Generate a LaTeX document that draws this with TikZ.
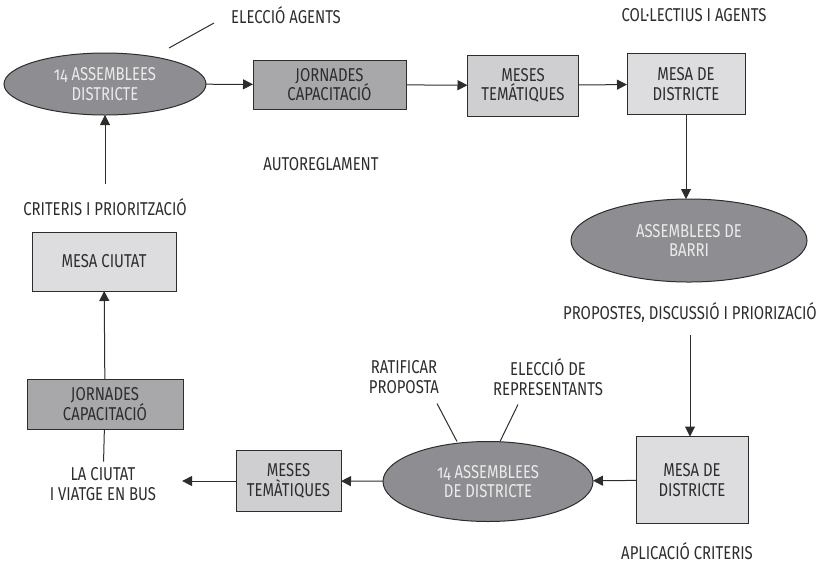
\documentclass[tikz,border=0pt]{standalone}
\usepackage{fontspec}
\setmainfont{Fira Sans}[Numbers=OldStyle,FakeStretch=0.80]
\usetikzlibrary{shapes.geometric,arrows.meta}
\definecolor{ellgray}{RGB}{142,142,146}
\definecolor{jorgray}{RGB}{168,168,171}
\definecolor{mesgray}{RGB}{207,207,209}
\definecolor{mesagray}{RGB}{221,221,223}
\definecolor{inkgray}{RGB}{45,45,45}

\begin{document}
\begin{tikzpicture}[x=0.5pt,y=-0.5pt,line width=0.5pt,color=inkgray,>={Triangle[length=5pt,width=5pt]},
  every node/.style={inner sep=0,outer sep=0,align=center,font=\fontsize{9.3}{9.8}\selectfont},
  assembly/.style={ellipse,draw=inkgray,fill=ellgray,text=white!92!black},
  jorbox/.style={draw=inkgray,fill=jorgray},
  mesbox/.style={draw=inkgray,fill=mesgray},
  mesabox/.style={draw=inkgray,fill=mesagray}]
\useasboundingbox (0,0) rectangle (836,564);

\node (ell1) [assembly,minimum width=101pt,minimum height=31pt] at (105,84) {14 ASSEMBLEES\\DISTRICTE};
\node (jor1) [jorbox,minimum width=76.5pt,minimum height=24.5pt] at (329.5,84.5) {JORNADES\\CAPACITACIÓ};
\node (mes1) [mesbox,minimum width=55.5pt,minimum height=30.5pt] at (523,85.5) {MESES\\TEMÁTIQUES};
\node (mesa1) [mesabox,minimum width=59pt,minimum height=30.5pt] at (686,84) {MESA DE\\DISTRICTE};
\node (barri) [assembly,minimum width=118pt,minimum height=41.5pt] at (689,240.5) {ASSEMBLEES DE\\BARRI};
\node (mesa2) [mesabox,minimum width=56pt,minimum height=43.5pt] at (692,480) {MESA DE\\DISTRICTE};
\node (ell2) [assembly,minimum width=105pt,minimum height=40pt] at (488,481.5) {14 ASSEMBLEES\\DE DISTRICTE};
\node (mes2) [mesbox,minimum width=52.5pt,minimum height=30.5pt] at (288.5,481) {MESES\\TEMÀTIQUES};
\node (jor2) [jorbox,minimum width=78pt,minimum height=25pt] at (105,404) {JORNADES\\CAPACITACIÓ};
\node (ciutat) [mesabox,minimum width=72pt,minimum height=29.5pt] at (104,261.5) {MESA CIUTAT};

\node (elec) at (286,15) {ELECCIÓ AGENTS};
\node (coll) at (694,15) {COL·LECTIUS I AGENTS};
\node (autoreg) at (321,164) {AUTOREGLAMENT};
\node (crit) at (105,207) {CRITERIS I PRIORITZACIÓ};
\node (prop) at (690,313) {PROPOSTES, DISCUSSIÓ I PRIORIZACIÓ};
\node (ratif) at (404,377) {RATIFICAR\\PROPOSTA};
\node (repr) at (548,377) {ELECCIÓ DE\\REPRESENTANTS};
\node (bus) at (103,484) {LA CIUTAT\\I VIATGE EN BUS};
\node (aplic) at (687,551) {APLICACIÓ CRITERIS};

\draw [->] (ell1) -- (jor1);
\draw [->] (jor1) -- (mes1);
\draw [->] (mes1) -- (mesa1);
\draw [->] (mesa1) -- (mesa1 |- barri.north);
\draw [->,shorten <=6pt] (prop) -- (prop |- mesa2.north);
\draw [->] (mesa2) -- (ell2);
\draw [->] (ell2) -- (mes2);
\draw [->,shorten >=13pt] (mes2) -- (mes2 -| bus.east);
\draw [shorten >=3pt] (jor2) -- (bus);
\draw [->] (jor2) -- (ciutat);
\draw [->,shorten <=7pt] (crit) -- (ell1);
\draw ([xshift=32pt,yshift=2.5pt]ell1.north) -- ++(22.5pt,12.5pt);
\draw ([xshift=-15.5pt]ell2.north) -- ++(-10pt,19pt);
\draw ([xshift=6pt]ell2.north) -- ++(9pt,18.5pt);
\end{tikzpicture}
\end{document}
